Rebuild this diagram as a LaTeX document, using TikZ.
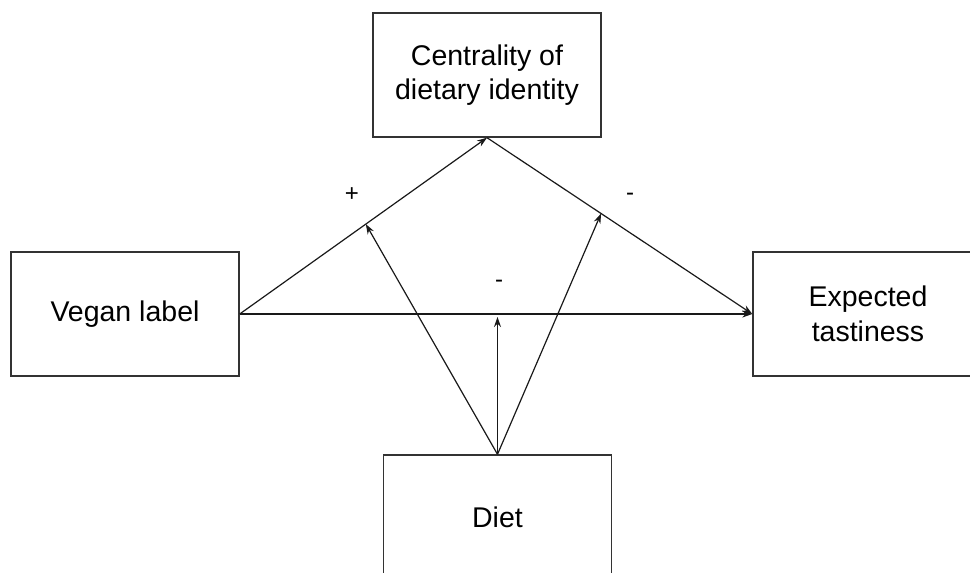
\documentclass[tikz,border=0pt]{standalone}
\usepackage{fontspec}
\setmainfont{Liberation Sans}
\usepackage{tikz}
\usetikzlibrary{positioning, arrows.meta, calc}

\begin{document}
\begin{tikzpicture}[
    x=1pt, y=-1pt,
    var/.style={rectangle, draw=black!80, line width=1.4pt, minimum width=228pt, minimum height=124pt, align=center, font=\fontsize{28.5}{34.5}\selectfont},
    path/.style={draw=black!90, line width=1.2pt, -{Stealth[length=10pt, width=7pt]}},
    sign/.style={font=\fontsize{24}{28}\selectfont}
]
\useasboundingbox (0,0) rectangle (970,573);
\clip (0,0) rectangle (970,573);

\node[var] (cent) at (487,75) {Centrality of\\dietary identity};
\node[var] (vegan) at (125,314) {Vegan label};
\node[var, minimum width=230pt] (taste) at (868,314) {Expected\\tastiness};
\node[var] (diet) at (497.5,517) {Diet};

\draw[path] (vegan.east) -- (cent.south) coordinate[pos=0.51] (apath);
\draw[path] (cent.south) -- (taste.west) coordinate[pos=0.43] (bpath);
\draw[path] (vegan.east) -- (taste.west);

\draw[path] (diet.north) -- (apath);
\draw[path] (diet.north) -- (bpath);
\draw[path, shorten >=3pt] (diet.north) -- (diet.north |- vegan.east);

\node[sign] (plus) at (352,195) {+};
\node[sign] (minb) at (630,197) {-};
\node[sign] (minc) at (499,284) {-};
\end{tikzpicture}
\end{document}
